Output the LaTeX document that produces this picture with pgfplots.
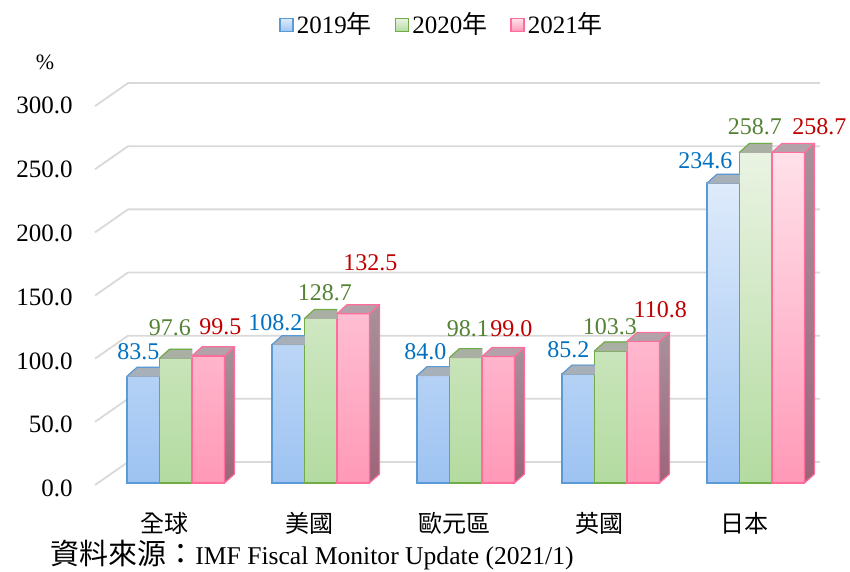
\documentclass[border=0pt]{standalone}
\usepackage{fontspec}
\setmainfont{Liberation Serif}
\newfontfamily\cjk{Noto Sans CJK TC}
\usepackage{pgfplots}
\usepackage{pgfplotstable}
\pgfplotsset{compat=1.18}

\definecolor{bBord}{HTML}{5B9BD5}
\definecolor{bTop}{HTML}{DEEBFB}
\definecolor{bBot}{HTML}{9DC3F2}
\definecolor{bFace}{HTML}{A7AFB8}
\definecolor{gBord}{HTML}{70AD47}
\definecolor{gTop}{HTML}{EAF3E3}
\definecolor{gBot}{HTML}{B3DBA0}
\definecolor{gFace}{HTML}{A9B0A3}
\definecolor{pBord}{HTML}{FF6E9A}
\definecolor{pTop}{HTML}{FFE1EA}
\definecolor{pBot}{HTML}{FF99B8}
\definecolor{pFace}{HTML}{B3A2AA}
\definecolor{pSideT}{HTML}{A6929B}
\definecolor{pSideB}{HTML}{9E6479}
\definecolor{gridc}{HTML}{D9D9D9}
\definecolor{lblB}{HTML}{0070C0}
\definecolor{lblG}{HTML}{548235}
\definecolor{lblP}{HTML}{C00000}

\pgfplotstableread{
x y dx up
0 83.5 -37.5 24.3
1 108.2 -45.5 21.7
2 84.0 -40.5 23.6
3 85.2 -42.5 24
4 234.6 -50.5 22
}\tblB
\pgfplotstableread{
x y dx up
0 97.6 -6 31
1 128.7 4 25.5
2 98.1 2 28.6
3 103.3 -1 24
4 258.7 -1 25.4
}\tblG
\pgfplotstableread{
x y dx up
0 99.5 44.5 28.8
1 132.5 49.5 50.7
2 99.0 45.5 27.5
3 110.8 49.5 31.4
4 258.7 63.5 25.4
}\tblP

% visible part of the top face of a bar hidden on its right by the next (taller) bar
% #1 shift (pt number), #2 border, #3 fill
\newcommand\truncface[3]{%
  \fill[#3] ({#1pt-8.125pt},0pt) -- ({#1pt-3.125pt},4.5pt) -- ({#1pt+8.125pt},4.5pt) -- ({#1pt+8.125pt},0pt) -- cycle;
  \draw[#2, line width=0.6pt, line join=round] ({#1pt+8.125pt},4.5pt) -- ({#1pt-3.125pt},4.5pt) -- ({#1pt-8.125pt},0pt);
}
% full top and side faces: #1 shift, #2 border, #3 top fill, #4 side top, #5 side bottom
\newcommand\fullfaces[5]{%
  \pgfmathsetlengthmacro\hh{0.639pt*\ry}%
  \path[draw=#2, line width=0.6pt, line join=round, top color=#4, bottom color=#5]
    ({#1pt+8.125pt},0pt) -- ({#1pt+13.125pt},4.5pt) -- ({#1pt+13.125pt},{4.5pt-\hh}) -- ({#1pt+8.125pt},{-\hh}) -- cycle;
  \path[draw=#2, line width=0.6pt, line join=round, fill=#3]
    ({#1pt-8.125pt},0pt) -- ({#1pt-3.125pt},4.5pt) -- ({#1pt+13.125pt},4.5pt) -- ({#1pt+8.125pt},0pt) -- cycle;
}

\pgfplotsset{
  faces/.style={forget plot, scatter, only marks, mark=*, mark size=0pt,
    mark options={draw=none, fill=none},
    visualization depends on={rawy \as \ry},
    scatter/@pre marker code/.code={#1},
    scatter/@post marker code/.code={}},
  mybar/.style n args={5}{ybar, bar width=16.25pt, bar shift=#1pt, draw=#2, line width=0.75pt,
    top color=#3, bottom color=#4,
    visualization depends on={\thisrow{dx} \as \ldx},
    visualization depends on={\thisrow{up} \as \lup},
    nodes near coords={\pgfmathprintnumber[fixed,fixed zerofill,precision=1,assume math mode=true]{\pgfplotspointmeta}},
    every node near coord/.append style={anchor=center, text=#5, xshift={\ldx*0.5pt}, yshift={\lup*0.5pt},
      font=\fontsize{12}{14}\selectfont, inner sep=0pt},
    legend image code/.code={\draw[draw=#2, line width=0.75pt, top color=#3, bottom color=#4] (0pt,-3.25pt) rectangle (6.5pt,3.25pt);}},
}

\begin{document}
\fontsize{12.5}{15}\selectfont
\begin{tikzpicture}
\begin{axis}[
  x=72.5pt, y=0.639pt,
  xmin=-0.557, xmax=4.443, ymin=0, ymax=300,
  clip=false,
  axis line style={draw=none},
  major tick length=0pt,
  xtick={0,1,2,3,4},
  xticklabels={{\cjk 全球},{\cjk 美國},{\cjk 歐元區},{\cjk 英國},{\cjk 日本}},
  xticklabel style={anchor=center, xshift=-5.4pt, yshift=-20pt, font=\fontsize{12}{14}\selectfont},
  ytick={0,50,...,300},
  yticklabel={\pgfmathprintnumber[fixed,fixed zerofill,precision=1,assume math mode=true]{\tick}},
  yticklabel style={anchor=east, inner sep=0pt, xshift=-11pt, yshift=-2.85pt},
  legend style={at={(axis cs:1.8397,358.37)}, anchor=center, draw=none, fill=none,
    legend columns=3, inner sep=0pt,
    /tikz/every even column/.append style={column sep=10pt},
    nodes={inner sep=1.5pt}},
]
% back-wall gridlines
\addplot[forget plot, gridc, line width=0.9pt] coordinates {(-0.5569,-1.565) (-0.3293,16.43) (4.443,16.43)};
\addplot[forget plot, gridc, line width=0.9pt] coordinates {(-0.5569,47.85) (-0.3293,65.85) (4.443,65.85)};
\addplot[forget plot, gridc, line width=0.9pt] coordinates {(-0.5569,97.27) (-0.3293,115.26) (4.443,115.26)};
\addplot[forget plot, gridc, line width=0.9pt] coordinates {(-0.5569,146.68) (-0.3293,164.68) (4.443,164.68)};
\addplot[forget plot, gridc, line width=0.9pt] coordinates {(-0.5569,196.10) (-0.3293,214.09) (4.443,214.09)};
\addplot[forget plot, gridc, line width=0.9pt] coordinates {(-0.5569,245.51) (-0.3293,263.51) (4.443,263.51)};
\addplot[forget plot, gridc, line width=0.9pt] coordinates {(-0.5569,294.93) (-0.3293,312.92) (4.443,312.92)};

\addplot[faces={\truncface{-16.25}{bBord}{bFace}}] table[x=x,y=y] {\tblB};
\addplot[mybar={-16.25}{bBord}{bTop}{bBot}{lblB}] table[x=x,y=y] {\tblB};
\addlegendentry{2019{\cjk 年}}
\addplot[faces={\truncface{0}{gBord}{gFace}}] table[x=x,y=y] {\tblG};
\addplot[mybar={0}{gBord}{gTop}{gBot}{lblG}] table[x=x,y=y] {\tblG};
\addlegendentry{2020{\cjk 年}}
\addplot[faces={\fullfaces{16.25}{pBord}{pFace}{pSideT}{pSideB}}] table[x=x,y=y] {\tblP};
\addplot[mybar={16.25}{pBord}{pTop}{pBot}{lblP}] table[x=x,y=y] {\tblP};
\addlegendentry{2021{\cjk 年}}

\node[font=\fontsize{11}{13}\selectfont] at (axis cs:-0.9017,329.4) {\%};
\node[anchor=west, inner sep=0pt, font=\fontsize{12.8}{15}\selectfont] at (axis cs:-0.8672,-56.34) {{\cjk\fontsize{14.5}{15}\selectfont 資料來源：}IMF Fiscal Monitor Update (2021/1)};
\coordinate (BL) at (axis cs:-1.2121,-68.86);
\coordinate (TR) at (axis cs:4.65,377.93);
\end{axis}
\pgfresetboundingbox
\path[use as bounding box] (BL) rectangle (TR);
\end{tikzpicture}
\end{document}
